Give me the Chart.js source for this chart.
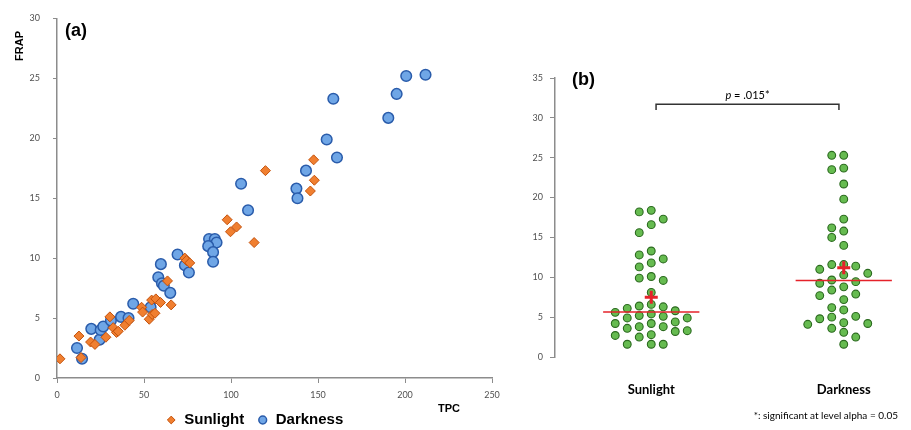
<!DOCTYPE html>
<html><head><meta charset="utf-8">
<script src="https://cdn.jsdelivr.net/npm/chart.js@4.4.0/dist/chart.umd.min.js"></script>
<style>
html,body{margin:0;padding:0;background:#fff;overflow:hidden;}
#wrap{position:relative;width:911px;height:430px;overflow:hidden;}
#ca{position:absolute;left:0;top:0;}
#cb{position:absolute;left:520px;top:0;}
</style></head><body>
<div id="wrap">
<canvas id="ca" width="520" height="438"></canvas>
<canvas id="cb" width="391" height="430"></canvas>
</div>
<script>
// ---------- data: panel (a) ----------
const seriesNames = ['Sunlight', 'Darkness'];
const sunTPC  = [1.7, 12.6, 13.8, 19.3, 21.8, 28.1, 30.4, 32.3, 34.2, 35.2, 39.0, 41.5, 48.6, 49.2, 53.0, 54.7, 56.3, 54.4, 56.8, 59.5, 65.6, 63.5, 73.5, 74.4, 76.3, 97.8, 99.7, 103.2, 113.3, 119.8, 147.5, 147.9, 145.6];
const sunFRAP = [1.6, 3.5, 1.7, 3.0, 2.8, 3.4, 5.1, 4.2, 3.8, 3.9, 4.4, 4.8, 5.9, 5.5, 4.9, 5.3, 5.4, 6.5, 6.6, 6.3, 6.1, 8.1, 10.0, 9.8, 9.6, 13.2, 12.2, 12.6, 11.3, 17.3, 18.2, 16.5, 15.6];
const darkTPC  = [11.5, 14.4, 19.7, 24.5, 25.1, 26.6, 31.0, 36.8, 41.1, 43.8, 53.8, 58.2, 60.3, 61.4, 59.7, 65.1, 69.3, 73.5, 75.8, 87.4, 90.7, 91.7, 86.9, 89.7, 89.7, 105.8, 109.8, 137.6, 138.2, 143.1, 155.0, 160.9, 158.8, 190.4, 195.2, 200.7, 211.8];
const darkFRAP = [2.5, 1.6, 4.1, 3.2, 4.0, 4.3, 4.8, 5.1, 5.0, 6.2, 5.9, 8.4, 7.9, 7.7, 9.5, 7.1, 10.3, 9.4, 8.8, 11.6, 11.6, 11.3, 11.0, 10.5, 9.7, 16.2, 14.0, 15.8, 15.0, 17.3, 19.9, 18.4, 23.3, 21.7, 23.7, 25.2, 25.3];
const xTicksA = [0, 50, 100, 150, 200, 250];
const yTicksA = [0, 5, 10, 15, 20, 25, 30];

// ---------- data: panel (b) ----------
const groupLabels = ['Sunlight', 'Darkness'];
const sunFRAPb  = [18.4, 18.2, 17.3, 16.6, 15.6, 13.3, 12.8, 12.3, 11.8, 11.3, 10.1, 9.9, 9.6, 8.1, 6.6, 6.4, 6.3, 6.1, 5.8, 5.6, 5.4, 5.2, 5.1, 4.9, 4.2, 3.8, 3.3, 4.4, 3.8, 3.2, 2.5, 4.9, 4.2, 3.6, 2.8, 2.7, 1.6, 1.6, 1.6];
const darkFRAPb = [25.3, 25.3, 23.7, 23.5, 21.7, 19.8, 17.3, 16.2, 15.8, 15.0, 14.0, 11.6, 11.6, 11.0, 11.4, 10.3, 10.5, 9.45, 9.25, 9.66, 8.8, 7.9, 8.4, 7.7, 7.2, 6.2, 5.9, 5.0, 4.1, 5.1, 4.3, 4.8, 4.2, 3.6, 3.1, 2.5, 1.6];
const groupMeans   = [7.5, 11.2];
const groupMedians = [5.65, 9.6];
const yTicksB = [0, 5, 10, 15, 20, 25, 30, 35];
const pLabel = ['p', ' = .015*'];
const footnote = '*: significant at level alpha = 0.05';

// ---------- panel (a) ----------
const axisGray = '#8c8c8c';
const tickColor = '#505050';
const tickFont = {family: 'Lato', size: 9};

const textA = {
  id: 'textA',
  afterDraw(chart) {
    const ctx = chart.ctx;
    ctx.save();
    ctx.fillStyle = '#000';
    ctx.font = 'bold 18px "Liberation Sans"';
    ctx.textAlign = 'left'; ctx.textBaseline = 'middle';
    ctx.fillText('(a)', 65, 31);
    ctx.font = 'bold 11px "Liberation Sans"';
    ctx.textAlign = 'center';
    ctx.fillText('TPC', 449, 409);
    ctx.translate(20, 46);
    ctx.rotate(-Math.PI / 2);
    ctx.fillText('FRAP', 0, 0);
    ctx.restore();
  }
};

new Chart(document.getElementById('ca'), {
  type: 'scatter',
  data: {
    datasets: [
      {label: seriesNames[0], data: sunTPC.map((x, i) => ({x, y: sunFRAP[i]})),
       pointStyle: 'rectRot', pointRadius: 5, backgroundColor: '#f07f30', borderColor: '#c4520c', borderWidth: 1},
      {label: seriesNames[1], data: darkTPC.map((x, i) => ({x, y: darkFRAP[i]})),
       pointStyle: 'circle', pointRadius: 5.3, backgroundColor: '#6fa6e6', borderColor: '#2a5cab', borderWidth: 1.5}
    ]
  },
  options: {
    responsive: false, animation: false, devicePixelRatio: 1,
    layout: {padding: {left: 17, right: 28, top: 16, bottom: 0.5}},
    plugins: {
      tooltip: {enabled: false},
      legend: {position: 'bottom',
        labels: {usePointStyle: true, boxWidth: 11, boxHeight: 5.5, padding: 13, color: '#000',
                 font: {family: 'Liberation Sans', size: 15, weight: 'bold'}}}
    },
    scales: {
      x: {type: 'linear', min: 0, max: 250,
          afterBuildTicks: s => { s.ticks = xTicksA.map(v => ({value: v})); },
          afterFit: s => { s.height = 21.5; },
          grid: {drawOnChartArea: false, drawTicks: true, tickLength: 5, color: axisGray},
          border: {color: axisGray, width: 1.5},
          ticks: {font: tickFont, color: tickColor, padding: 7, maxRotation: 0, autoSkip: false}},
      y: {type: 'linear', min: 0, max: 30,
          afterBuildTicks: s => { s.ticks = yTicksA.map(v => ({value: v})); },
          afterFit: s => { s.width = 40; },
          grid: {drawOnChartArea: false, drawTicks: true, tickLength: 4, color: axisGray},
          border: {color: axisGray, width: 1.5},
          ticks: {font: tickFont, color: tickColor, padding: 13}}
    }
  },
  plugins: [textA]
});

// ---------- panel (b) ----------
const textB = {
  id: 'textB',
  afterDraw(chart) {
    const ctx = chart.ctx, xs = chart.scales.x, ys = chart.scales.y;
    ctx.save();
    ctx.fillStyle = '#000';
    ctx.font = 'bold 18px "Liberation Sans"';
    ctx.textAlign = 'left'; ctx.textBaseline = 'middle';
    ctx.fillText('(b)', 52, 80);
    // significance bracket
    const x1 = xs.getPixelForValue(1.025), x2 = xs.getPixelForValue(1.975);
    const yb = ys.getPixelForValue(31.7), yt = ys.getPixelForValue(31.0);
    ctx.strokeStyle = '#333'; ctx.lineWidth = 1.5;
    ctx.beginPath();
    ctx.moveTo(x1, yt); ctx.lineTo(x1, yb); ctx.lineTo(x2, yb); ctx.lineTo(x2, yt);
    ctx.stroke();
    // p label
    ctx.font = 'italic 11px Lato';
    const w1 = ctx.measureText(pLabel[0]).width;
    ctx.font = '11px Lato';
    const w2 = ctx.measureText(pLabel[1]).width;
    const xm = (x1 + x2) / 2 - (w1 + w2) / 2;
    ctx.textAlign = 'left';
    ctx.font = 'italic 11px Lato';
    ctx.fillText(pLabel[0], xm, yb - 9);
    ctx.font = '11px Lato';
    ctx.fillText(pLabel[1], xm + w1, yb - 9);
    // footnote
    ctx.font = '10px Lato';
    ctx.textAlign = 'right';
    ctx.fillText(footnote, 378, 416);
    ctx.restore();
  }
};

const green = '#66bb50', greenEdge = '#2c6a20', red = '#e5222a';
const chartB = new Chart(document.getElementById('cb'), {
  type: 'scatter',
  data: {
    datasets: [
      {label: groupLabels[0], data: sunFRAPb.map(v => ({x: 1, y: v})), order: 2,
       pointRadius: 3.9, backgroundColor: green, borderColor: greenEdge, borderWidth: 1.1},
      {label: groupLabels[1], data: darkFRAPb.map(v => ({x: 2, y: v})), order: 2,
       pointRadius: 3.9, backgroundColor: green, borderColor: greenEdge, borderWidth: 1.1},
      {label: 'median ' + groupLabels[0], data: [{x: 0.75, y: groupMedians[0]}, {x: 1.25, y: groupMedians[0]}],
       showLine: true, pointRadius: 0, borderColor: red, borderWidth: 1.5, order: 1},
      {label: 'median ' + groupLabels[1], data: [{x: 1.75, y: groupMedians[1]}, {x: 2.25, y: groupMedians[1]}],
       showLine: true, pointRadius: 0, borderColor: red, borderWidth: 1.5, order: 1},
      {label: 'mean', data: groupMeans.map((m, i) => ({x: i + 1, y: m})), order: 0,
       pointStyle: 'cross', pointRadius: 6.5, borderColor: red, borderWidth: 3}
    ]
  },
  options: {
    responsive: false, animation: false, devicePixelRatio: 1,
    layout: {padding: {left: 0, right: 3.2, top: 78, bottom: 0}},
    plugins: {legend: {display: false}, tooltip: {enabled: false}},
    scales: {
      x: {type: 'linear', min: 0.5, max: 2.3,
          afterBuildTicks: s => { s.ticks = groupLabels.map((l, i) => ({value: i + 1})); },
          afterFit: s => { s.height = 73; },
          grid: {display: false}, border: {display: false},
          ticks: {font: {family: 'Lato', size: 13, weight: 'bold'}, color: '#000', padding: 17,
                  autoSkip: false, maxRotation: 0,
                  callback: v => groupLabels[v - 1] || ''}},
      y: {type: 'linear', min: 0, max: 35,
          afterBuildTicks: s => { s.ticks = yTicksB.map(v => ({value: v})); },
          afterFit: s => { s.width = 35; },
          grid: {drawOnChartArea: false, drawTicks: true, tickLength: 5, color: axisGray},
          border: {color: axisGray, width: 1.5},
          ticks: {font: tickFont, color: tickColor, padding: 7}}
    }
  },
  plugins: [textB]
});

// spread the points of each group sideways (beeswarm) so they do not sit on top of each other
(function swarm(chart) {
  const xs = chart.scales.x, ys = chart.scales.y;
  const step = 12, minD = 9;
  [sunFRAPb, darkFRAPb].forEach((vals, gi) => {
    const cx = xs.getPixelForValue(gi + 1);
    const placed = [];
    const offs = new Array(vals.length);
    const order = vals.map((v, i) => i).sort((a, b) => vals[b] - vals[a]);
    order.forEach(i => {
      const py = ys.getPixelForValue(vals[i]);
      for (let k = 0; k < 40; k++) {
        const m = k === 0 ? 0 : (k % 2 ? -Math.ceil(k / 2) : k / 2);
        const px = cx + m * step;
        if (placed.every(p => Math.hypot(p[0] - px, p[1] - py) >= minD)) {
          placed.push([px, py]);
          offs[i] = xs.getValueForPixel(px);
          break;
        }
      }
    });
    chart.data.datasets[gi].data = vals.map((v, i) => ({x: offs[i], y: v}));
  });
  chart.update('none');
})(chartB);
</script>
</body></html>
